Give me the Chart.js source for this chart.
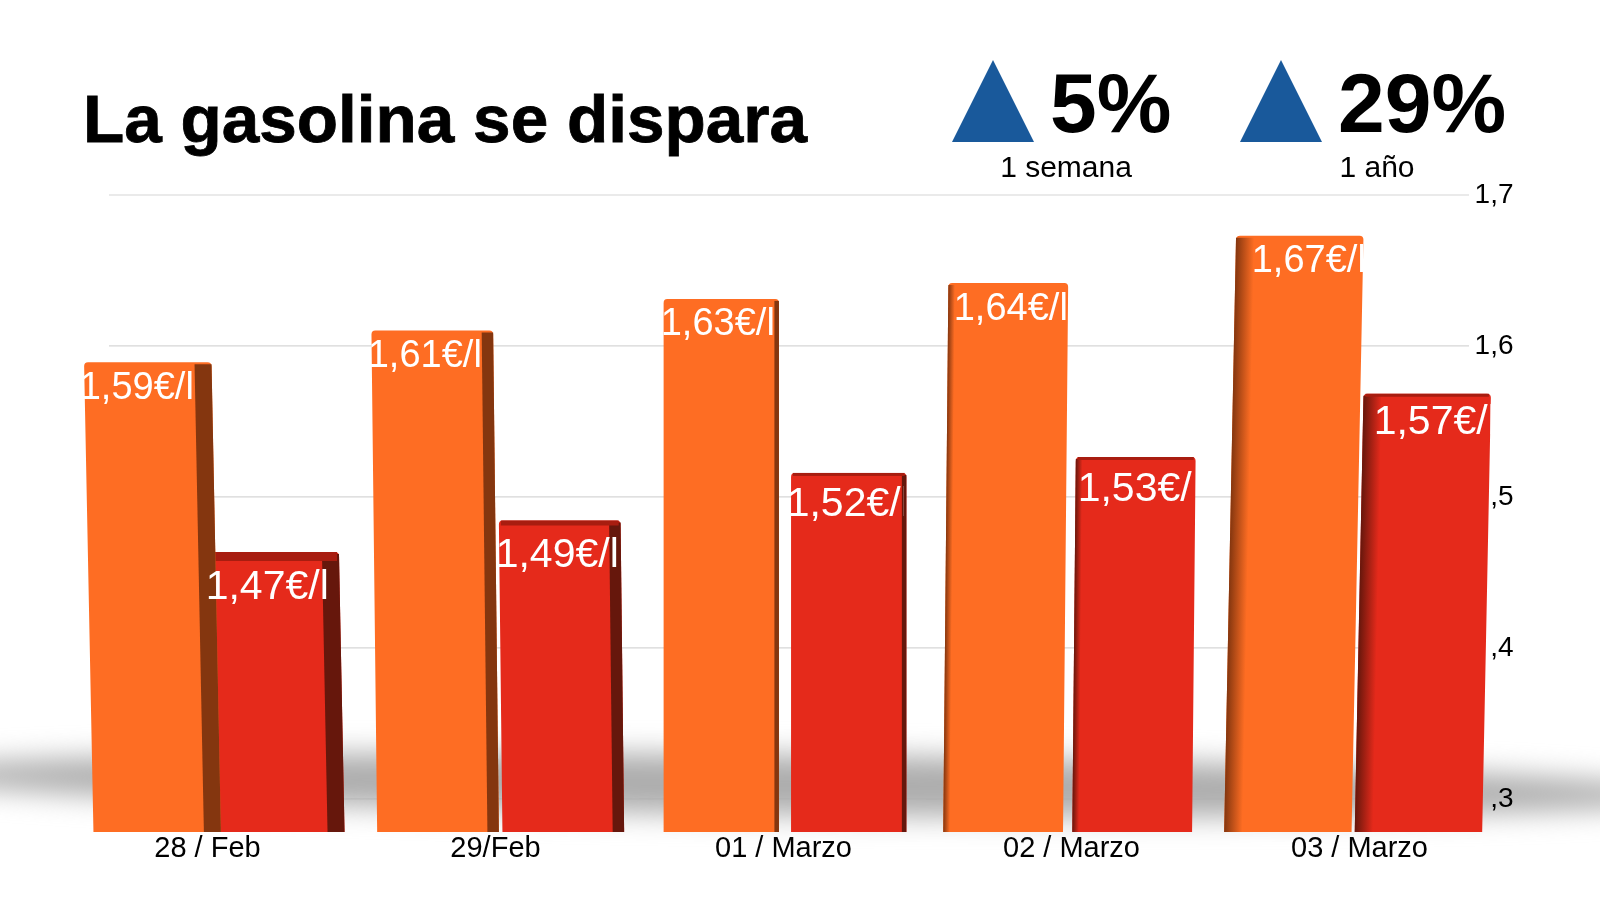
<!DOCTYPE html>
<html>
<head>
<meta charset="utf-8">
<title>La gasolina se dispara</title>
<script src="https://cdn.jsdelivr.net/npm/chart.js@4/dist/chart.umd.min.js"></script>
<style>
  html, body { margin: 0; background: #fff; }
  #wrap { position: relative; width: 1600px; height: 900px; overflow: hidden; font-family: "Liberation Sans", sans-serif; color: #000; }
  #graphCanvas { position: absolute; left: 0; top: 0; }
  .txt { position: absolute; white-space: nowrap; line-height: 1; }
  #title { left: 83px; top: 85px; font-size: 67.5px; font-weight: bold; -webkit-text-stroke: 0.8px #000; }
  .pct { font-size: 84px; font-weight: bold; top: 61px; }
  .cap { font-size: 30px; top: 152px; transform: translateX(-50%); }
  .tri { position: absolute; top: 60px; width: 82px; height: 82px; background: #19599b; clip-path: polygon(50% 0, 100% 100%, 0 100%); }
</style>
</head>
<body>
<div id="wrap">
  <canvas id="graphCanvas" width="1600" height="900"></canvas>
  <div class="txt" id="title">La gasolina se dispara</div>
  <div class="tri" style="left:952px"></div>
  <div class="txt pct" style="left:1050px">5%</div>
  <div class="txt cap" style="left:1066px">1 semana</div>
  <div class="tri" style="left:1240px"></div>
  <div class="txt pct" style="left:1338px">29%</div>
  <div class="txt cap" style="left:1377px">1 año</div>
</div>
<script>
var categories = ['28 / Feb', '29/Feb', '01 / Marzo', '02 / Marzo', '03 / Marzo'];
var gasolina = [1.59, 1.61, 1.63, 1.64, 1.67];
var diesel = [1.47, 1.49, 1.52, 1.53, 1.57];
var tickValues = [1.3, 1.4, 1.5, 1.6, 1.7];
var tickLabels = [',3', ',4', ',5', '1,6', '1,7'];

// fake 3D look of the original, one entry per date
var shear = [0.02, 0.012, 0, -0.01, -0.02];
var faceScale = [1, 0.955, 0.905, 0.94, 1];
var faceShift = [0, -3.5, -2.5, -3.5, 0];
var sideWidth = [17, 12, 5, -5, -13];
var sideColor = ['#84360f', '#66170c'];
var topFace = [[0, 0, 0, 0, 0], [9, 5, 3, 3, 3]];
var labelShift = [[-11, -11, -6, -1, 9], [-8, -6, -3, 0, 8]];
var labelDrop = [[26, 26, 26, 26, 26], [36, 35, 32, 33, 29]];
var labelFont = [38, 41];
var labelInset = [[0, 0, 0, 0, 0], [0, 0, 3, 3, 0]];

var baseDraw = Chart.BarElement.prototype.draw;
Chart.BarElement.prototype.draw = function (ctx) {
    var i = this.$group;
    var k = shear[i] || 0;
    var left = this.x - this.width / 2;
    var h = this.base - this.y;
    var s = sideWidth[i];
    ctx.save();
    ctx.translate(this.x + faceShift[i], 0);
    ctx.scale(faceScale[i], 1);
    ctx.translate(-this.x, 0);
    ctx.transform(1, 0, k, 1, -k * this.y, 0);
    baseDraw.call(this, ctx);
    if (s > 0) {
        ctx.fillStyle = sideColor[this.$set];
        ctx.fillRect(left + this.width - s, this.y + 2, s, h - 2);
    } else if (s < 0) {
        var g = ctx.createLinearGradient(left, 0, left - s * 1.4, 0);
        g.addColorStop(0, sideColor[this.$set]);
        g.addColorStop(1, this.options.backgroundColor);
        ctx.fillStyle = g;
        ctx.fillRect(left, this.y + 2, -s * 1.4, h - 2);
    }
    var t = topFace[this.$set][i];
    if (t > 0) {
        ctx.fillStyle = '#a81d10';
        ctx.fillRect(left + 2, this.y, this.width - 4, t);
    }
    ctx.restore();
};

var decor = {
    id: 'decor',
    afterDatasetsUpdate: function (chart) {
        chart.data.datasets.forEach(function (d, set) {
            chart.getDatasetMeta(set).data.forEach(function (el, i) {
                el.$group = i;
                el.$set = set;
            });
        });
    },
    beforeDatasetsDraw: function (chart) {
        var ctx = chart.ctx;
        var y = chart.scales.y;
        // grid lines, shorter than the plot area
        ctx.save();
        ctx.strokeStyle = '#d6d6d6';
        ctx.lineWidth = 1.2;
        tickValues.forEach(function (v) {
            var py = y.getPixelForValue(v);
            ctx.beginPath();
            ctx.moveTo(109, py);
            ctx.lineTo(1469, py);
            ctx.stroke();
        });
        // floor shadow, slightly tilted
        ctx.filter = 'blur(14px)';
        ctx.fillStyle = '#adadad';
        ctx.beginPath();
        ctx.ellipse(800, 785, 900, 30, 0.012, 0, Math.PI * 2);
        ctx.fill();
        ctx.restore();
    },
    afterDatasetsDraw: function (chart) {
        var ctx = chart.ctx;
        chart.data.datasets.forEach(function (d, set) {
            chart.getDatasetMeta(set).data.forEach(function (el, i) {
                var txt = d.data[i].toFixed(2).replace('.', ',') + '€/l';
                var right = el.x + faceShift[i] + el.width / 2 * faceScale[i] - labelInset[set][i];
                ctx.save();
                ctx.beginPath();
                ctx.rect(0, el.y, right, 80);
                ctx.clip();
                ctx.font = labelFont[set] + 'px "Liberation Sans"';
                ctx.fillStyle = '#fff';
                ctx.textAlign = 'center';
                ctx.textBaseline = 'middle';
                ctx.fillText(txt, el.x + labelShift[set][i], el.y + labelDrop[set][i]);
                ctx.restore();
            });
        });
    }
};

new Chart(document.getElementById('graphCanvas'), {
    type: 'bar',
    data: {
        labels: categories,
        datasets: [
            { label: 'Gasolina', data: gasolina, backgroundColor: '#fe6d23', yAxisID: 'yBars' },
            { label: 'Diésel', data: diesel, backgroundColor: '#e52a1b', yAxisID: 'yBars' }
        ]
    },
    plugins: [decor],
    options: {
        responsive: false,
        animation: false,
        layout: { padding: { left: 67.5, top: 195, right: 88, bottom: 0 } },
        datasets: { bar: { categoryPercentage: 0.885, barPercentage: 1, borderRadius: 4, borderSkipped: 'bottom' } },
        plugins: { legend: { display: false }, tooltip: { enabled: false } },
        scales: {
            x: {
                grid: { display: false, drawTicks: false },
                border: { display: false },
                ticks: { color: '#000', font: { family: 'Liberation Sans', size: 29 }, padding: 0, labelOffset: -4, maxRotation: 0 },
                afterFit: function (s) { s.height = 68; }
            },
            // the bars in the original do not line up with its printed axis
            yBars: { display: false, min: 1.293, max: 1.6957 },
            y: {
                position: 'right',
                min: 1.278,
                max: 1.7,
                grid: { display: false, drawTicks: false },
                border: { display: false },
                afterBuildTicks: function (s) {
                    s.ticks = tickValues.map(function (v) { return { value: v }; });
                },
                ticks: {
                    color: '#000',
                    font: { family: 'Liberation Sans', size: 28 },
                    mirror: true,
                    z: 1,
                    padding: 6,
                    callback: function (v, i) { return tickLabels[i]; }
                },
                afterFit: function (s) { s.width = 4.5; }
            }
        }
    }
});
</script>
</body>
</html>
